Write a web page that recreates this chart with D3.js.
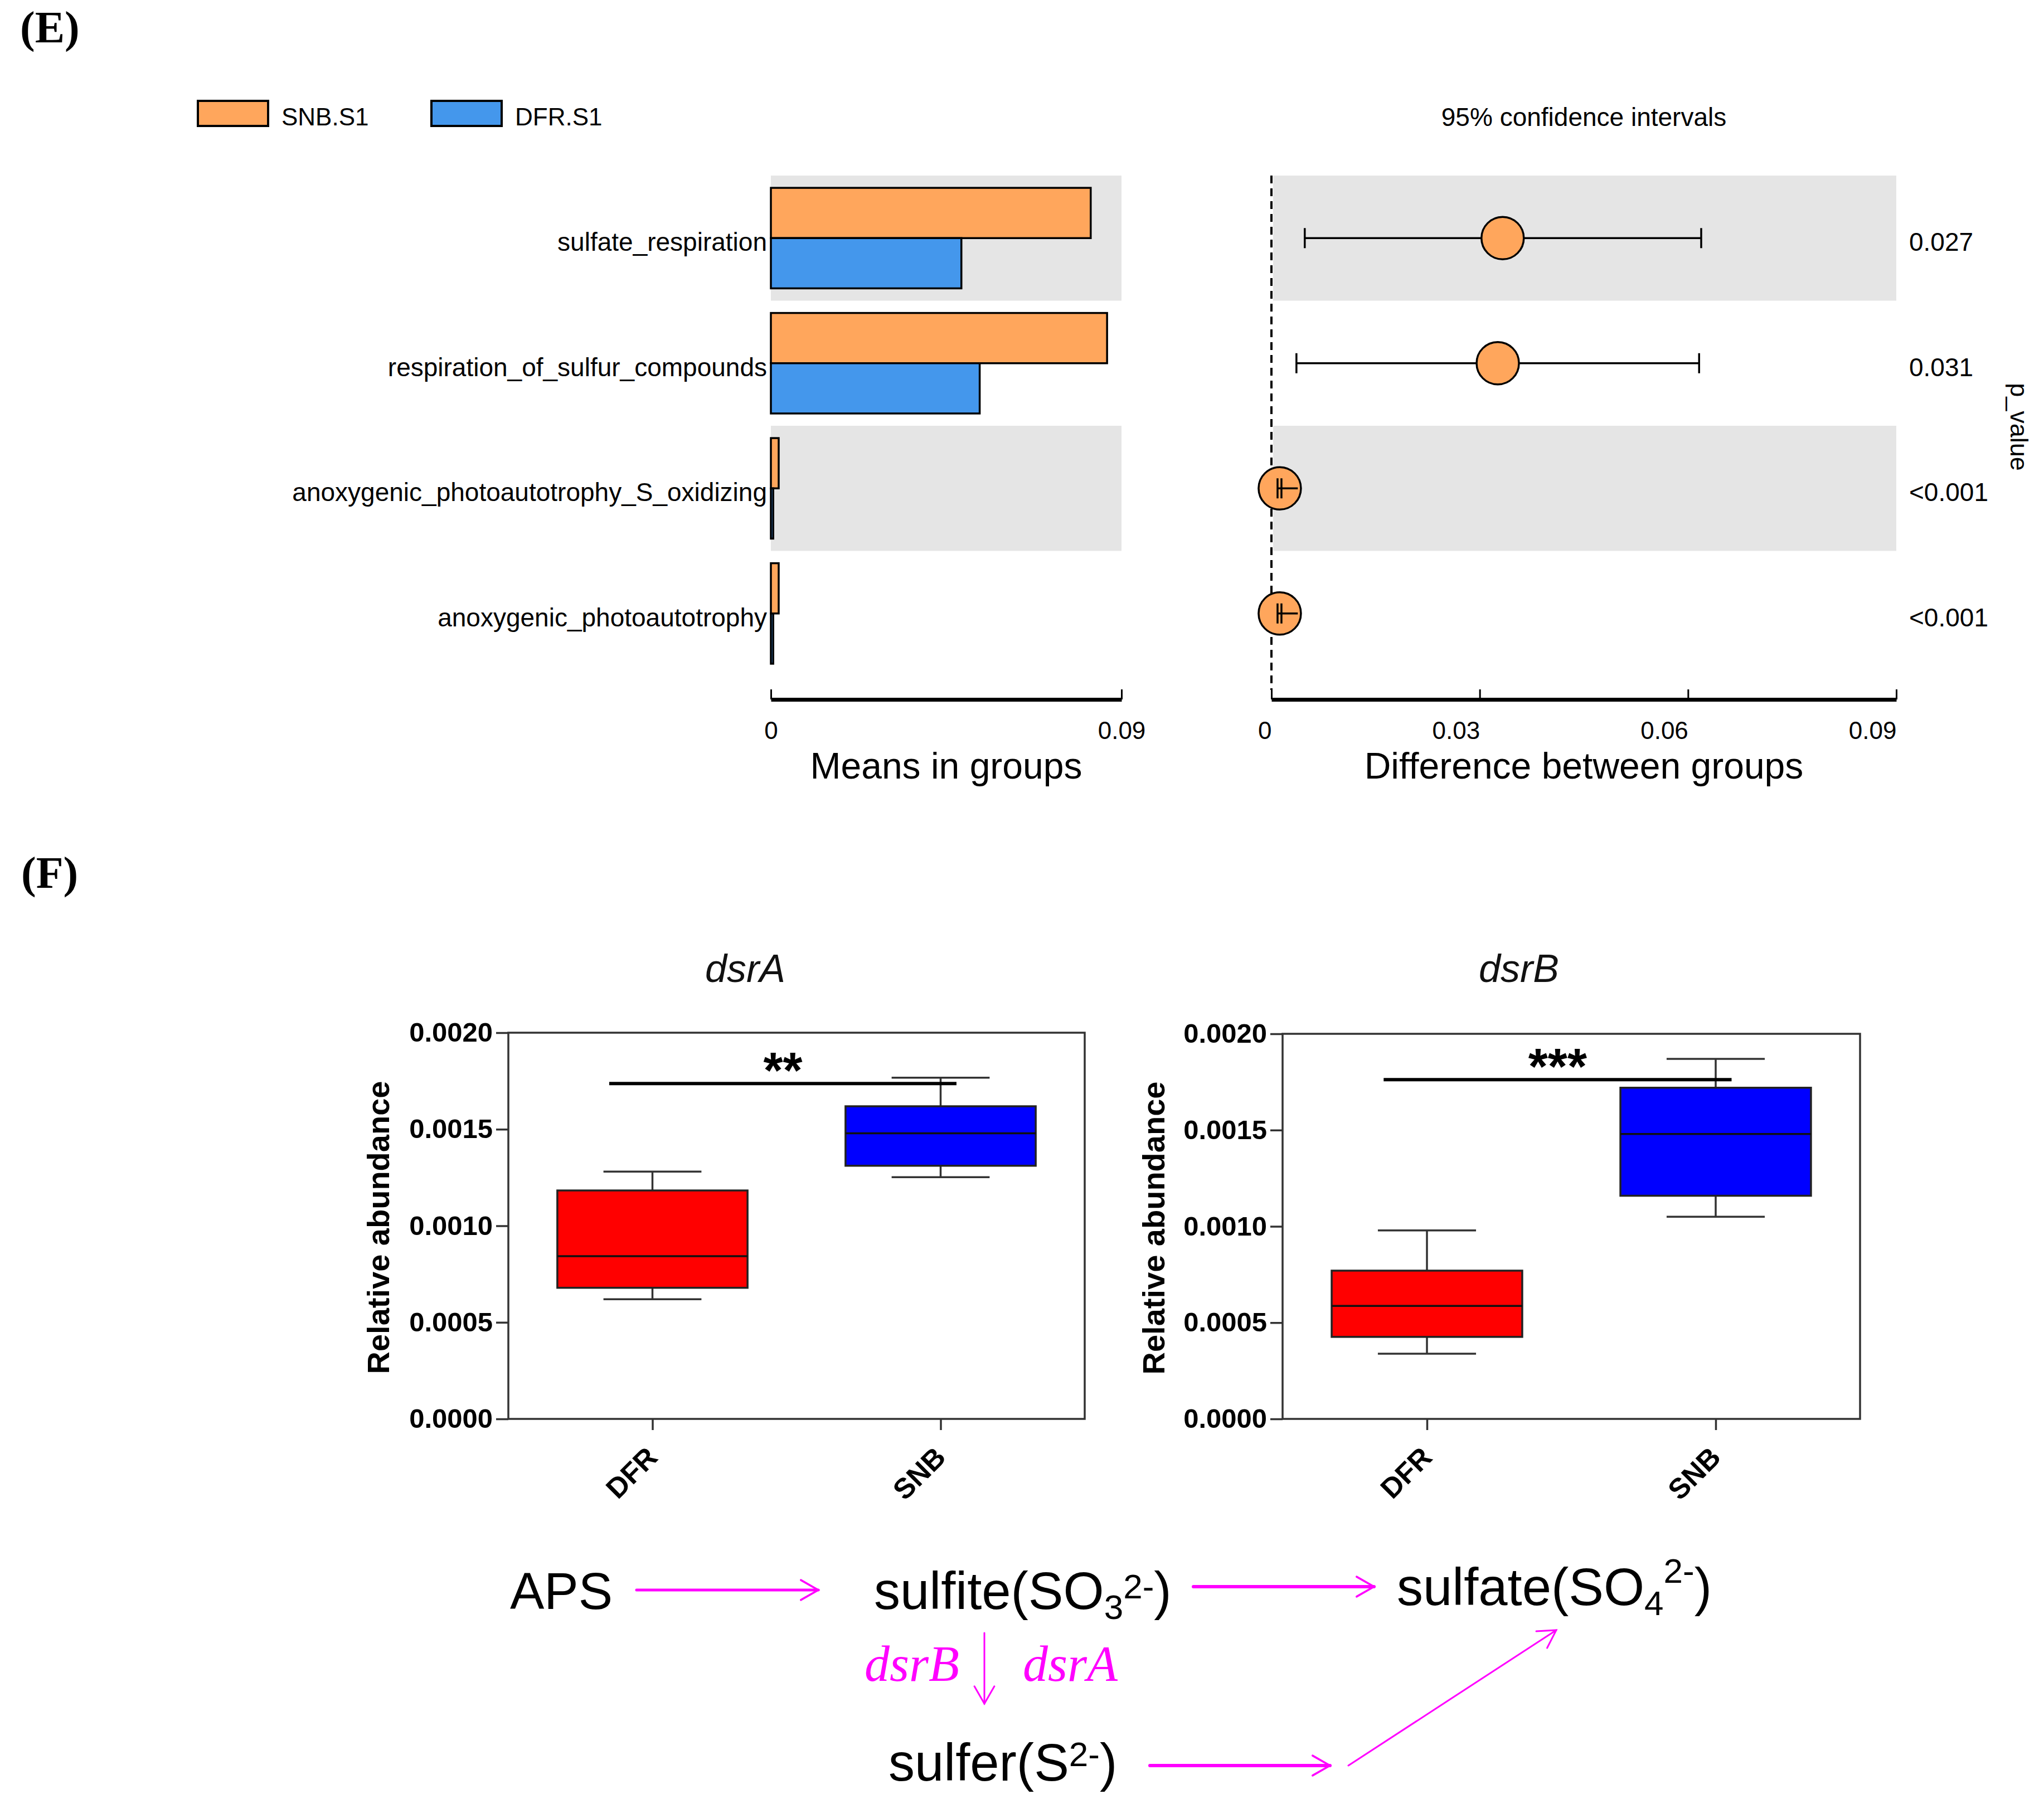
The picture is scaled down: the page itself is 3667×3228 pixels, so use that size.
<!DOCTYPE html>
<html>
<head>
<meta charset="utf-8">
<script src="https://cdn.jsdelivr.net/npm/d3@7"></script>
<style>
  html, body { margin: 0; padding: 0; background: #ffffff; }
  svg { display: block; }
</style>
</head>
<body>
<script>
// ---------------- DATA ----------------
// Panel E : STAMP-like comparison
const funcCategories = [
  "sulfate_respiration",
  "respiration_of_sulfur_compounds",
  "anoxygenic_photoautotrophy_S_oxidizing",
  "anoxygenic_photoautotrophy"
];
const groupNames = ["SNB.S1", "DFR.S1"];
const meanSNB = [0.0821, 0.0863, 0.0020, 0.0020];
const meanDFR = [0.0489, 0.0536, 0.0006, 0.0006];
const diffEstimate = [0.0333, 0.0326, 0.0012, 0.0012];
const ciLow  = [0.0048, 0.0036, 0.00088, 0.00088];
const ciHigh = [0.0619, 0.0616, 0.0038, 0.0038];
const pValues = ["0.027", "0.031", "<0.001", "<0.001"];
const meanTicks = [0, 0.09];
const diffTicks = [0, 0.03, 0.06, 0.09];

// Panel F : box plots
const boxGroups = ["DFR", "SNB"];
const boxTicks = [0, 0.0005, 0.0010, 0.0015, 0.0020];
// [min, q1, median, q3, max]
const dsrA_DFR = [0.000620, 0.000679, 0.000843, 0.001183, 0.001281];
const dsrA_SNB = [0.001252, 0.001311, 0.001479, 0.001619, 0.001767];
const dsrB_DFR = [0.000339, 0.000426, 0.000587, 0.000770, 0.000979];
const dsrB_SNB = [0.001050, 0.001159, 0.001480, 0.001720, 0.001870];
const sigLevel = [0.001737, 0.001762];
const sigStars = ["**", "***"];
const geneNames = ["dsrA", "dsrB"];

// ---------------- STYLE ----------------
const SANS = "'Liberation Sans', Arial, Helvetica, sans-serif";
const SERIF = "'Liberation Serif', 'Times New Roman', Times, serif";
const ORANGE = "#ffa65c";
const BLUE = "#4497ec";
const BAND = "#e5e5e5";
const MAGENTA = "#ff00ff";

const svg = d3.select("body").append("svg")
  .attr("width", 3667).attr("height", 3228)
  .attr("viewBox", "0 0 3667 3228");
svg.append("rect").attr("width", 3667).attr("height", 3228).attr("fill", "#fff");

// panel letters
svg.append("text").attr("x", 36).attr("y", 76)
  .attr("font-family", SERIF).attr("font-weight", "bold").attr("font-size", 80)
  .text("(E)");
svg.append("text").attr("x", 38).attr("y", 1593)
  .attr("font-family", SERIF).attr("font-weight", "bold").attr("font-size", 80)
  .text("(F)");

// ---------------- PANEL E ----------------
const gE = svg.append("g");
const rowScale = d3.scaleBand().domain(funcCategories).range([315, 1213]);
const grpScale = d3.scaleBand().domain(groupNames).range([0, rowScale.bandwidth()]).paddingOuter(0.245);
const xMean = d3.scaleLinear().domain([0, 0.09]).range([1383, 2012]);
const xDiff = d3.scaleLinear().domain([0, 0.09]).range([2281, 3402]);
const groupColor = d3.scaleOrdinal().domain(groupNames).range([ORANGE, BLUE]);

// legend
const legend = gE.append("g");
groupNames.forEach((g, i) => {
  const lx = [355, 774][i];
  legend.append("rect").attr("x", lx).attr("y", 181).attr("width", 126).attr("height", 45)
    .attr("fill", groupColor(g)).attr("stroke", "#000").attr("stroke-width", 4);
  legend.append("text").attr("x", lx + 150).attr("y", 225)
    .attr("font-family", SANS).attr("font-size", 44).text(g);
});
gE.append("text").attr("x", (xDiff(0) + xDiff(0.09)) / 2).attr("y", 226)
  .attr("text-anchor", "middle").attr("font-family", SANS).attr("font-size", 46)
  .text("95% confidence intervals");

// background bands
funcCategories.forEach((c, i) => {
  if (i % 2 === 0) {
    gE.append("rect").attr("x", xMean(0)).attr("y", rowScale(c))
      .attr("width", xMean(0.09) - xMean(0)).attr("height", rowScale.bandwidth()).attr("fill", BAND);
    gE.append("rect").attr("x", xDiff(0) + 3).attr("y", rowScale(c))
      .attr("width", xDiff(0.09) - xDiff(0) - 3).attr("height", rowScale.bandwidth()).attr("fill", BAND);
  }
});

// bars
const barData = [];
funcCategories.forEach((c, i) => {
  barData.push({ cat: c, grp: groupNames[0], v: meanSNB[i] });
  barData.push({ cat: c, grp: groupNames[1], v: meanDFR[i] });
});
gE.selectAll("rect.bar").data(barData).enter().append("rect")
  .attr("class", "bar")
  .attr("x", xMean(0))
  .attr("y", d => rowScale(d.cat) + grpScale(d.grp))
  .attr("width", d => xMean(d.v) - xMean(0))
  .attr("height", grpScale.bandwidth())
  .attr("fill", d => groupColor(d.grp))
  .attr("stroke", "#000").attr("stroke-width", 3.5);

// category labels
gE.selectAll("text.cat").data(funcCategories).enter().append("text")
  .attr("class", "cat")
  .attr("x", 1376)
  .attr("y", d => rowScale(d) + rowScale.bandwidth() / 2 + 23)
  .attr("text-anchor", "end").attr("font-family", SANS).attr("font-size", 46)
  .text(d => d);

// axes E
const fmtE = d => d === 0 ? "0" : d3.format(".2f")(d);
const axMean = gE.append("g").attr("transform", "translate(0,1255)")
  .call(d3.axisBottom(xMean).tickValues(meanTicks).tickFormat(fmtE)
    .tickSizeInner(-18).tickSizeOuter(0).tickPadding(40));
const axDiff = gE.append("g").attr("transform", "translate(0,1255)")
  .call(d3.axisBottom(xDiff).tickValues(diffTicks).tickFormat(fmtE)
    .tickSizeInner(-18).tickSizeOuter(0).tickPadding(40));
[axMean, axDiff].forEach(ax => {
  ax.select(".domain").attr("stroke", "#000").attr("stroke-width", 7);
  ax.selectAll(".tick line").attr("stroke", "#000").attr("stroke-width", 3);
  ax.selectAll(".tick text").attr("font-family", SANS).attr("font-size", 44).attr("fill", "#000");
});
axDiff.selectAll(".tick text").attr("text-anchor", "end");

gE.append("text").attr("x", (xMean(0) + xMean(0.09)) / 2).attr("y", 1397)
  .attr("text-anchor", "middle").attr("font-family", SANS).attr("font-size", 66)
  .text("Means in groups");
gE.append("text").attr("x", (xDiff(0) + xDiff(0.09)) / 2).attr("y", 1397)
  .attr("text-anchor", "middle").attr("font-family", SANS).attr("font-size", 66)
  .text("Difference between groups");

// zero dashed line
gE.append("line").attr("x1", xDiff(0)).attr("x2", xDiff(0))
  .attr("y1", 315).attr("y2", 1238)
  .attr("stroke", "#000").attr("stroke-width", 4).attr("stroke-dasharray", "14 9");

// error bars + points
const R = 38;
funcCategories.forEach((c, i) => {
  const cy = rowScale(c) + rowScale.bandwidth() / 2;
  const x0 = xDiff(ciLow[i]), x1 = xDiff(ciHigh[i]), xc = xDiff(diffEstimate[i]);
  const inside = (x1 - x0) < 2 * R;
  const drawErr = () => {
    const e = gE.append("g").attr("stroke", "#000").attr("stroke-width", 3.5);
    e.append("line").attr("x1", x0).attr("x2", x1).attr("y1", cy).attr("y2", cy);
    e.append("line").attr("x1", x0).attr("x2", x0).attr("y1", cy - 18).attr("y2", cy + 18);
    if (!inside) {
      e.append("line").attr("x1", x1).attr("x2", x1).attr("y1", cy - 18).attr("y2", cy + 18);
    } else {
      e.append("line").attr("x1", x0 + 7).attr("x2", x0 + 7).attr("y1", cy - 18).attr("y2", cy + 18);
    }
  };
  if (!inside) drawErr();
  gE.append("circle").attr("cx", xc).attr("cy", cy).attr("r", R)
    .attr("fill", ORANGE).attr("stroke", "#000").attr("stroke-width", 3.5);
  if (inside) drawErr();
  gE.append("text").attr("x", 3425).attr("y", cy + 23)
    .attr("font-family", SANS).attr("font-size", 46).text(pValues[i]);
});
gE.append("text").attr("transform", "translate(3607,766) rotate(90)")
  .attr("text-anchor", "middle").attr("font-family", SANS).attr("font-size", 45)
  .text("p_value");

// ---------------- PANEL F (box plots) ----------------
const boxColor = d3.scaleOrdinal().domain(boxGroups).range(["#ff0000", "#0000ff"]);
const panels = [
  { gene: geneNames[0], stats: [dsrA_DFR, dsrA_SNB], sig: sigLevel[0], stars: sigStars[0],
    f: { l: 912, r: 1946, t: 1853, b: 2546 }, titleX: 1337, ylabX: 698 },
  { gene: geneNames[1], stats: [dsrB_DFR, dsrB_SNB], sig: sigLevel[1], stars: sigStars[1],
    f: { l: 2301, r: 3337, t: 1855, b: 2546 }, titleX: 2725, ylabX: 2089 }
];

panels.forEach(p => {
  const g = svg.append("g");
  const f = p.f;
  const y = d3.scaleLinear().domain([0, 0.002]).range([f.b, f.t]);
  const x = d3.scalePoint().domain(boxGroups).range([f.l, f.r]).padding(0.5);
  const step = x.step();
  const boxW = step * 0.66, capW = step * 0.34;

  // title
  g.append("text").attr("x", p.titleX).attr("y", 1762).attr("text-anchor", "middle")
    .attr("font-family", SANS).attr("font-style", "italic").attr("font-size", 70)
    .attr("fill", "#111").text(p.gene);

  // y axis
  const ay = g.append("g").attr("transform", `translate(${f.l},0)`)
    .call(d3.axisLeft(y).tickValues(boxTicks).tickFormat(d3.format(".4f"))
      .tickSizeInner(22).tickSizeOuter(0).tickPadding(6));
  ay.select(".domain").remove();
  ay.selectAll(".tick line").attr("stroke", "#333").attr("stroke-width", 3.5);
  ay.selectAll(".tick text").attr("font-family", SANS).attr("font-weight", "bold")
    .attr("font-size", 49).attr("fill", "#000");

  // x axis
  const ax = g.append("g").attr("transform", `translate(0,${f.b})`)
    .call(d3.axisBottom(x).tickSizeInner(20).tickSizeOuter(0).tickFormat(""));
  ax.select(".domain").remove();
  ax.selectAll(".tick line").attr("stroke", "#333").attr("stroke-width", 3.5);
  boxGroups.forEach(gr => {
    g.append("text")
      .attr("transform", `translate(${x(gr) + 12},${f.b + 72}) rotate(-45)`)
      .attr("text-anchor", "end").attr("font-family", SANS).attr("font-weight", "bold")
      .attr("font-size", 51).attr("fill", "#000").text(gr);
  });

  // frame
  g.append("rect").attr("x", f.l).attr("y", f.t).attr("width", f.r - f.l).attr("height", f.b - f.t)
    .attr("fill", "none").attr("stroke", "#333").attr("stroke-width", 3.5);

  // y label
  g.append("text").attr("transform", `translate(${p.ylabX},${(f.t + f.b) / 2 + 3}) rotate(-90)`)
    .attr("text-anchor", "middle").attr("font-family", SANS).attr("font-weight", "bold")
    .attr("font-size", 56).attr("fill", "#000").text("Relative abundance");

  // boxes
  boxGroups.forEach((gr, k) => {
    const s = p.stats[k];
    const cx = x(gr);
    const w = g.append("g").attr("stroke", "#333").attr("stroke-width", 3.5);
    w.append("line").attr("x1", cx).attr("x2", cx).attr("y1", y(s[4])).attr("y2", y(s[3]));
    w.append("line").attr("x1", cx).attr("x2", cx).attr("y1", y(s[1])).attr("y2", y(s[0]));
    w.append("line").attr("x1", cx - capW / 2).attr("x2", cx + capW / 2).attr("y1", y(s[4])).attr("y2", y(s[4]));
    w.append("line").attr("x1", cx - capW / 2).attr("x2", cx + capW / 2).attr("y1", y(s[0])).attr("y2", y(s[0]));
    g.append("rect").attr("x", cx - boxW / 2).attr("y", y(s[3]))
      .attr("width", boxW).attr("height", y(s[1]) - y(s[3]))
      .attr("fill", boxColor(gr)).attr("stroke", "#222").attr("stroke-width", 3.5);
    g.append("line").attr("x1", cx - boxW / 2).attr("x2", cx + boxW / 2)
      .attr("y1", y(s[2])).attr("y2", y(s[2])).attr("stroke", "#111").attr("stroke-width", 3.5);
  });

  // significance
  const sx0 = x(boxGroups[0]) - step * 0.15, sx1 = x(boxGroups[1]) + step * 0.055;
  g.append("line").attr("x1", sx0).attr("x2", sx1).attr("y1", y(p.sig)).attr("y2", y(p.sig))
    .attr("stroke", "#000").attr("stroke-width", 6);
  g.append("text").attr("x", (sx0 + sx1) / 2).attr("y", y(p.sig) + 8).attr("text-anchor", "middle")
    .attr("font-family", SANS).attr("font-weight", "bold").attr("font-size", 90).attr("fill", "#000")
    .text(p.stars);
});

// ---------------- PATHWAY DIAGRAM ----------------
const gD = svg.append("g");
function arrow(x1, y1, x2, y2, w) {
  const a = Math.atan2(y2 - y1, x2 - x1);
  const L = 36, spread = 0.52;
  const gA = gD.append("g").attr("stroke", MAGENTA).attr("stroke-width", w)
    .attr("fill", "none").attr("stroke-linecap", "round");
  gA.append("line").attr("x1", x1).attr("y1", y1).attr("x2", x2).attr("y2", y2);
  gA.append("path").attr("stroke-width", Math.min(w, 3.5)).attr("d",
    `M${x2 - L * Math.cos(a - spread)},${y2 - L * Math.sin(a - spread)}L${x2},${y2}` +
    `L${x2 - L * Math.cos(a + spread)},${y2 - L * Math.sin(a + spread)}`);
}
arrow(1142, 2853, 1468, 2853, 5);
arrow(2141, 2847, 2465, 2847, 6);
arrow(1766, 2930, 1766, 3057, 3);
arrow(2063, 3168, 2386, 3168, 6);
arrow(2419, 3168, 2792, 2925, 3);

const T = (x, yb, fs) => gD.append("text").attr("x", x).attr("y", yb)
  .attr("font-family", SANS).attr("font-size", fs).attr("fill", "#000");
T(915, 2887, 92).text("APS");

const t1 = T(1568, 2887, 94);
t1.append("tspan").text("sulfite(SO");
t1.append("tspan").attr("font-size", 62).attr("dy", 18).text("3");
t1.append("tspan").attr("font-size", 62).attr("dy", -37).text("2-");
t1.append("tspan").attr("dy", 19).text(")");

const t2 = T(2506, 2880, 94);
t2.append("tspan").text("sulfate(SO");
t2.append("tspan").attr("font-size", 62).attr("dy", 18).text("4");
t2.append("tspan").attr("font-size", 62).attr("dy", -58).text("2-");
t2.append("tspan").attr("dy", 40).text(")");

const t3 = T(1594, 3195, 94);
t3.append("tspan").text("sulfer(S");
t3.append("tspan").attr("font-size", 62).attr("dy", -26).text("2-");
t3.append("tspan").attr("dy", 26).text(")");

gD.append("text").attr("x", 1551).attr("y", 3016).attr("font-family", SERIF)
  .attr("font-style", "italic").attr("font-size", 90).attr("fill", MAGENTA).text("dsrB");
gD.append("text").attr("x", 1835).attr("y", 3016).attr("font-family", SERIF)
  .attr("font-style", "italic").attr("font-size", 90).attr("fill", MAGENTA).text("dsrA");
</script>
</body>
</html>
